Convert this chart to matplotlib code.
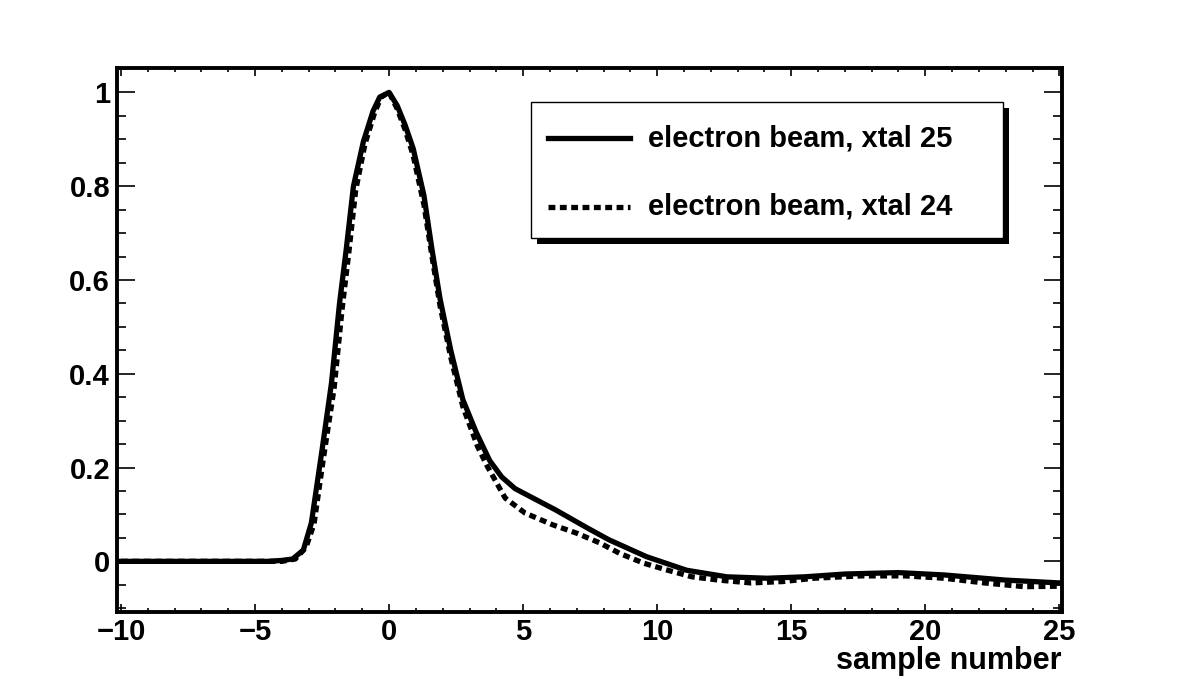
import matplotlib
matplotlib.use("Agg")
import matplotlib.pyplot as plt
from matplotlib.patches import Rectangle
from matplotlib.ticker import MultipleLocator, FuncFormatter

# ---- data ----
x25 = [-10, -8, -6, -4.5, -4.0, -3.6, -3.2, -2.9, -2.5, -2.15, -1.85, -1.6, -1.33,
       -0.96, -0.6, -0.35, 0.0, 0.3, 0.6, 0.9, 1.3, 1.6, 1.9, 2.3, 2.75, 3.25,
       3.75, 4.2, 4.7, 5.2, 6.2, 7.4, 8.2, 9.6, 11.1, 12.6, 14.1, 15.5, 17.0,
       19.0, 20.7, 23.0, 25.0]
y25 = [0.0, 0.0, 0.0, 0.0, 0.002, 0.005, 0.024, 0.082, 0.238, 0.38, 0.55, 0.665,
       0.80, 0.895, 0.96, 0.99, 1.0, 0.972, 0.93, 0.88, 0.78, 0.665, 0.56, 0.45,
       0.345, 0.275, 0.215, 0.18, 0.155, 0.14, 0.11, 0.071, 0.046, 0.01, -0.019,
       -0.033, -0.036, -0.033, -0.027, -0.024, -0.029, -0.04, -0.046]

x24 = [-10, -8, -6, -4.5, -4.0, -3.5, -3.1, -2.8, -2.45, -2.05, -1.75, -1.5, -1.25,
       -0.9, -0.55, -0.3, 0.0, 0.3, 0.6, 0.9, 1.3, 1.6, 1.9, 2.3, 2.75, 3.3,
       3.66, 4.33, 5.07, 6.1, 7.0, 7.87, 8.6, 9.5, 10.4, 11.3, 12.3, 13.5, 14.7,
       15.85, 17.6, 19.25, 20.7, 22.2, 23.7, 25.0]
y24 = [0.0, 0.0, 0.0, 0.0, 0.0, 0.005, 0.03, 0.08, 0.22, 0.37, 0.54, 0.66, 0.79,
       0.89, 0.955, 0.99, 1.0, 0.965, 0.92, 0.865, 0.76, 0.65, 0.545, 0.435,
       0.33, 0.245, 0.203, 0.135, 0.103, 0.078, 0.06, 0.039, 0.017, -0.004,
       -0.019, -0.033, -0.04, -0.046, -0.043, -0.036, -0.031, -0.031, -0.036,
       -0.046, -0.054, -0.053]

labels = ["electron beam, xtal 25", "electron beam, xtal 24"]
xlabel = "sample number"

FONT = "Liberation Sans"
plt.rcParams['font.family'] = [FONT, 'DejaVu Sans']
plt.rcParams['font.weight'] = 'bold'

fig = plt.figure(figsize=(11.82, 6.8), dpi=100)
ax = fig.add_axes([117/1182, 1 - 612/680, (1062-117)/1182, (612-68)/680])

dot_style = (0, (1.3, 0.85))
ax.plot(x25, y25, color='black', lw=3.8, solid_joinstyle='round', zorder=3)
ax.plot(x24, y24, color='black', lw=3.8, linestyle=dot_style, dash_capstyle='butt', zorder=2)

ax.set_xlim(-10.15, 25.1)
ax.set_ylim(-0.108, 1.052)

for s in ax.spines.values():
    s.set_linewidth(2.8)

ax.xaxis.set_major_locator(MultipleLocator(5))
ax.xaxis.set_minor_locator(MultipleLocator(1))
ax.yaxis.set_major_locator(MultipleLocator(0.2))
ax.yaxis.set_minor_locator(MultipleLocator(0.05))

def fmt_y(v, pos):
    if abs(v) < 1e-9:
        return "0"
    if abs(v - round(v)) < 1e-9:
        return "%d" % round(v)
    return ("%.1f" % v).replace('-', '\u2212')

def fmt_x(v, pos):
    return ("%d" % round(v)).replace('-', '\u2212')

ax.yaxis.set_major_formatter(FuncFormatter(fmt_y))
ax.xaxis.set_major_formatter(FuncFormatter(fmt_x))

ax.tick_params(axis='both', which='both', direction='in', top=True, right=True, width=1.2)
ax.tick_params(axis='y', which='major', length=13, labelsize=21, pad=5)
ax.tick_params(axis='y', which='minor', length=6.5)
ax.tick_params(axis='x', which='major', length=6, labelsize=21, pad=4)
ax.tick_params(axis='x', which='minor', length=3)
for lab in ax.get_xticklabels() + ax.get_yticklabels():
    lab.set_fontweight('bold')

ax.set_xlabel(xlabel, loc='right', fontsize=22, fontweight='bold')
ax.xaxis.set_label_coords(1.0, -0.063)

# ---- legend (ROOT style box with shadow) ----
lx0, lx1 = 0.438, 0.9376
ly0, ly1 = 0.6875, 0.9375
sh_dx, sh_dy = 6/945, 6/544
ax.add_patch(Rectangle((lx0 + sh_dx, ly0 - sh_dy), lx1 - lx0, ly1 - ly0,
                       transform=ax.transAxes, facecolor='black', edgecolor='black',
                       lw=0, zorder=5, clip_on=False))
ax.add_patch(Rectangle((lx0, ly0), lx1 - lx0, ly1 - ly0, transform=ax.transAxes,
                       facecolor='white', edgecolor='black', lw=1.0, zorder=6, clip_on=False))
rows_y = [0.871, 0.7445]
styles = ['-', dot_style]
for yy, st, lab in zip(rows_y, styles, labels):
    ax.plot([0.456, 0.5429], [yy, yy], transform=ax.transAxes, color='black', lw=3.8,
            linestyle=st, dash_capstyle='butt', zorder=7, clip_on=False)
    ax.text(0.5619, yy, lab, transform=ax.transAxes, fontsize=21, fontweight='bold',
            va='center', ha='left', zorder=7)

fig.savefig("out.png", dpi=100)
